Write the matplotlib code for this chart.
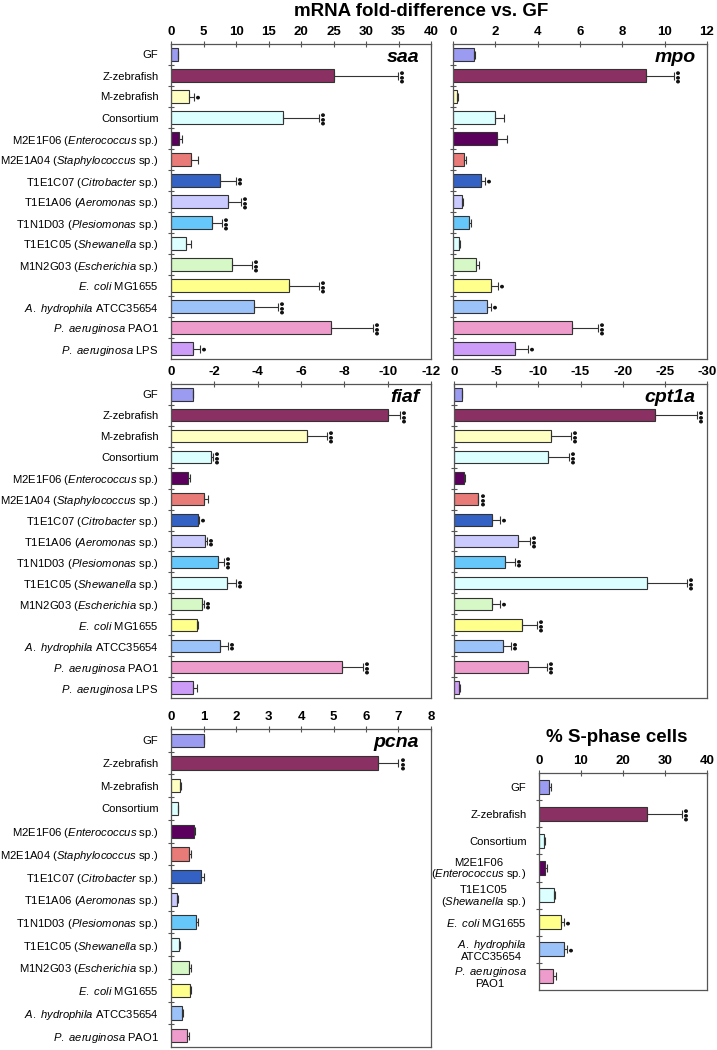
import numpy as np
import matplotlib
matplotlib.use("Agg")
import matplotlib.pyplot as plt

plt.rcParams['font.family'] = ['Liberation Sans', 'DejaVu Sans']
plt.rcParams['mathtext.fontset'] = 'custom'
plt.rcParams['mathtext.rm'] = 'Liberation Sans'
plt.rcParams['mathtext.it'] = 'Liberation Sans:italic'
plt.rcParams['mathtext.bf'] = 'Liberation Sans:bold'
plt.rcParams['axes.unicode_minus'] = False

W, H = 717, 1050

# ---- categories ----
labels = [
    "GF", "Z-zebrafish", "M-zebrafish", "Consortium",
    r"M2E1F06 ($\mathit{Enterococcus}$ sp.)",
    r"M2E1A04 ($\mathit{Staphylococcus}$ sp.)",
    r"T1E1C07 ($\mathit{Citrobacter}$ sp.)",
    r"T1E1A06 ($\mathit{Aeromonas}$ sp.)",
    r"T1N1D03 ($\mathit{Plesiomonas}$ sp.)",
    r"T1E1C05 ($\mathit{Shewanella}$ sp.)",
    r"M1N2G03 ($\mathit{Escherichia}$ sp.)",
    r"$\mathit{E.\ coli}$ MG1655",
    r"$\mathit{A.\ hydrophila}$ ATCC35654",
    r"$\mathit{P.\ aeruginosa}$ PAO1",
    r"$\mathit{P.\ aeruginosa}$ LPS",
]
colors = ["#9b9bf2", "#8b3062", "#ffffc2", "#dcffff", "#5c005e", "#e87a78",
          "#3462c4", "#cacaff", "#66c8fa", "#dcffff", "#d6f7c6", "#ffff8c",
          "#9cc2fa", "#ee9ccc", "#cc9cf8"]

# ---- saa (fold up, 0..40) ----
saa_val = [1.0, 25.1, 2.7, 17.3, 1.3, 3.0, 7.5, 8.7, 6.3, 2.3, 9.4, 18.2, 12.7, 24.6, 3.4]
saa_err = [0.1, 9.8, 0.8, 5.5, 0.45, 1.1, 2.5, 2.0, 1.5, 0.7, 3.0, 4.6, 3.7, 6.4, 1.1]
saa_sig = ["", "***", "*", "***", "", "", "**", "***", "***", "", "***", "***", "***", "***", "*"]

# ---- mpo (fold up, 0..12) ----
mpo_val = [1.0, 9.1, 0.17, 1.98, 2.09, 0.52, 1.32, 0.41, 0.77, 0.27, 1.07, 1.80, 1.59, 5.64, 2.93]
mpo_err = [0.02, 1.35, 0.05, 0.43, 0.45, 0.1, 0.19, 0.07, 0.08, 0.04, 0.16, 0.34, 0.21, 1.23, 0.63]
mpo_sig = ["", "***", "", "", "", "", "*", "", "", "", "", "*", "*", "***", "*"]

# ---- fiaf (fold down, 0..-12) ----
fiaf_val = [-1.0, -10.0, -6.26, -1.83, -0.77, -1.52, -1.26, -1.55, -2.18, -2.57, -1.42, -1.19, -2.26, -7.9, -1.0]
fiaf_err = [0.0, 0.58, 0.93, 0.1, 0.1, 0.18, 0.05, 0.13, 0.28, 0.41, 0.1, 0.04, 0.38, 0.97, 0.18]
fiaf_sig = ["", "***", "***", "***", "", "", "*", "**", "***", "**", "**", "", "**", "***", ""]

# ---- cpt1a (fold down, 0..-30) ----
cpt_val = [-1.0, -23.8, -11.5, -11.2, -1.19, -2.8, -4.5, -7.55, -6.0, -22.9, -4.47, -8.1, -5.8, -8.8, -0.63]
cpt_err = [0.0, 5.0, 2.4, 2.4, 0.08, 0.1, 0.95, 1.45, 1.2, 4.7, 1.0, 1.7, 1.0, 2.2, 0.08]
cpt_sig = ["", "***", "***", "***", "", "***", "*", "***", "**", "***", "*", "***", "**", "***", ""]

# ---- pcna (fold up, 0..8), no LPS ----
pcna_val = [1.0, 6.36, 0.28, 0.2, 0.72, 0.56, 0.92, 0.19, 0.77, 0.26, 0.55, 0.58, 0.33, 0.5]
pcna_err = [0.0, 0.64, 0.03, 0.02, 0.03, 0.04, 0.1, 0.02, 0.07, 0.02, 0.08, 0.05, 0.03, 0.06]
pcna_sig = ["", "***", "", "", "", "", "", "", "", "", "", "", "", ""]

# ---- % S-phase cells ----
sph_labels = [
    "GF", "Z-zebrafish", "Consortium",
    "M2E1F06\n($\\mathit{Enterococcus}$ sp.)",
    "T1E1C05\n($\\mathit{Shewanella}$ sp.)",
    r"$\mathit{E.\ coli}$ MG1655",
    "$\\mathit{A.\\ hydrophila}$\nATCC35654",
    "$\\mathit{P.\\ aeruginosa}$\nPAO1",
]
sph_idx = [0, 1, 3, 4, 9, 11, 12, 13]
sph_val = [2.46, 25.8, 1.27, 1.5, 3.65, 5.2, 6.0, 3.25]
sph_err = [0.4, 8.2, 0.23, 0.3, 0.25, 0.8, 0.6, 0.8]
sph_sig = ["", "***", "", "", "", "*", "*", ""]


def box(x0, y0, x1, y1):
    return [x0 / W, 1 - y1 / H, (x1 - x0) / W, (y1 - y0) / H]


def panel(fig, rect, vals, errs, sigs, cols, ylabels, xlim, xticks,
          gene=None, bar_h=0.58, show_labels=True):
    ax = fig.add_axes(rect)
    n = len(vals)
    y = np.arange(n)
    vals = np.array(vals)
    errs = np.array(errs)
    zeros = np.zeros(n)
    # error only on the outer side of each bar
    if xlim[1] < 0:
        xerr = [errs, zeros]
    else:
        xerr = [zeros, errs]
    ax.barh(y, vals, height=bar_h, color=cols, edgecolor="#333333",
            linewidth=0.8, zorder=2)
    ax.errorbar(vals, y, xerr=xerr, fmt="none", ecolor="#333333",
                elinewidth=0.8, capsize=2.6, capthick=0.8, zorder=3)
    for i in range(n):
        if sigs[i]:
            tip = vals[i] + (-errs[i] if xlim[1] < 0 else errs[i])
            stars = "\u2022" * len(sigs[i])
            ax.annotate(stars, xy=(tip, y[i]), xytext=(4.0, 0),
                        textcoords="offset points", rotation=90,
                        ha="center", va="center", fontsize=10,
                        color="#111111")
    ax.set_xlim(*xlim)
    ax.set_ylim(n - 0.5, -0.5)
    ax.xaxis.tick_top()
    ax.set_xticks(xticks)
    ax.tick_params(axis="x", direction="inout", length=4, width=0.8,
                   pad=2, labelsize=9.5, colors="#555555", labelcolor="black")
    for t in ax.get_xticklabels():
        t.set_fontweight("bold")
    ax.set_yticks(y)
    if show_labels:
        ax.set_yticklabels(ylabels, fontsize=8.1, multialignment="center",
                           linespacing=0.95)
    else:
        ax.set_yticklabels([])
    ax.set_yticks(np.arange(n - 1) + 0.5, minor=True)
    ax.tick_params(axis="y", which="major", length=0, pad=9)
    ax.tick_params(axis="y", which="minor", direction="inout", length=4,
                   width=0.8, colors="#555555")
    for s in ax.spines.values():
        s.set_color("#555555")
        s.set_linewidth(0.9)
    if gene:
        ax.text(0.955, 0.983, gene, transform=ax.transAxes, ha="right",
                va="top", fontsize=14, fontweight="bold", style="italic")
    return ax


fig = plt.figure(figsize=(W / 100, H / 100), dpi=100)

panel(fig, box(171, 44, 431, 359), saa_val, saa_err, saa_sig, colors, labels,
      (0, 40), np.arange(0, 41, 5), gene="saa")
panel(fig, box(453, 44, 707, 359), mpo_val, mpo_err, mpo_sig, colors, labels,
      (0, 12), np.arange(0, 13, 2), gene="mpo", show_labels=False)
panel(fig, box(171, 384, 431, 698), fiaf_val, fiaf_err, fiaf_sig, colors, labels,
      (0, -12), np.arange(0, -13, -2), gene="fiaf")
panel(fig, box(454, 384, 707, 698), cpt_val, cpt_err, cpt_sig, colors, labels,
      (0, -30), np.arange(0, -31, -5), gene="cpt1a", show_labels=False)
panel(fig, box(171, 729, 431, 1047), pcna_val, pcna_err, pcna_sig, colors[:14],
      labels[:14], (0, 8), np.arange(0, 9, 1), gene="pcna")
panel(fig, box(539, 773, 707, 990), sph_val, sph_err, sph_sig,
      [colors[i] for i in sph_idx], sph_labels, (0, 40), np.arange(0, 41, 10),
      bar_h=0.52)

fig.text(421 / W, 1 - 11 / H, "mRNA fold-difference vs. GF", ha="center",
         va="center", fontsize=13.5, fontweight="bold")
fig.text(617 / W, 1 - 737 / H, "% S-phase cells", ha="center", va="center",
         fontsize=13.5, fontweight="bold")

fig.savefig("out.png", dpi=100)
